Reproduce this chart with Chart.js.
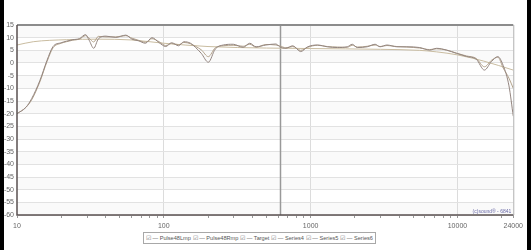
<!DOCTYPE html>
<html>
<head>
<meta charset="utf-8">
<script src="https://cdn.jsdelivr.net/npm/chart.js@4"></script>
<style>
  body { margin: 0; background: #000; width: 531px; height: 250px; overflow: hidden; }
  #wrap { position: absolute; left: 4px; top: 0; width: 523px; height: 250px; background: #fff; }
  #legend {
    position: absolute; left: 143px; top: 232px; width: 227px; height: 10px; padding: 0 2px;
    border: 1px solid #a8a8a8; display: flex; align-items: center; justify-content: space-between;
    font: 5.6px "Liberation Sans", Arial, sans-serif; color: #555; background: #fff;
  }
  #legend span { white-space: nowrap; }
  #legend b { font-weight: normal; color: #777; }
</style>
</head>
<body>
<div id="wrap"><canvas id="grafico" width="523" height="250"></canvas></div>
<div id="legend"></div>
<script>
// frequencias (Hz) das medicoes
const freqs = [10, 11.5, 12.6, 14.3, 16, 17.6, 20, 21.7, 24, 26.6, 29.3, 31, 33.3, 35.8, 40.4, 47.1,
  55.1, 60.7, 67, 75, 83, 93, 103, 113, 126, 137, 152, 164, 180, 201, 224, 254, 297, 347, 385, 425,
  496, 580, 615, 678, 756, 855, 955, 1115, 1298, 1521, 1778, 1922, 2078, 2428, 2750, 2970, 3311,
  3870, 4520, 5533, 6470, 7213, 8430, 9850, 11500, 13430, 15270, 17000, 18840, 20500, 22430, 24000];

const pulseL = [-20, -17.5, -14, -7, 1, 6.5, 8, 8.6, 9.2, 9.6, 11.2, 9, 5.8, 9.5, 10.6, 10.1,
  11, 9.4, 8.8, 7.8, 10, 8, 6.5, 8, 6.8, 8.4, 7.8, 6.2, 3.8, 0.3, 5.5, 7.1, 7.4, 6.2, 7.8, 6.4,
  7.1, 7.5, 6.4, 5.8, 6.8, 4.5, 6.4, 7.1, 6.4, 6.1, 6.4, 7.4, 6.1, 6.4, 7.4, 6.4, 7.1,
  6.4, 6.4, 6.1, 5.1, 5.8, 5.1, 3.8, 2.6, 1.5, -2.8, 0.5, 2.5, -1, -9, -21];

const pulseR = [-20, -17.5, -14.5, -7.5, 0.5, 6, 7.8, 8.4, 9, 9.4, 10.8, 9.8, 8.3, 10.5, 10.3, 10.3,
  10.8, 9.8, 9, 8.2, 9.6, 8.4, 6.9, 7.7, 7.2, 8.1, 7.6, 6.6, 5.2, 2.5, 6, 6.8, 7, 6.6, 7.4, 6.2,
  7.3, 7.1, 6.8, 6, 6.5, 5, 6.2, 7, 6.5, 6.3, 6.2, 7, 6.3, 6.6, 7.1, 6.5, 6.9,
  6.5, 6.3, 5.9, 5.3, 5.6, 5.1, 3.9, 2.8, 1.8, -1.5, 1, 2.3, -2, -6, -10];

const targetFreqs = [10, 12.9, 21.7, 35.8, 60, 100, 200, 500, 1000, 3000, 5500, 7200, 10000, 15000, 24000];
const targetDb = [7.1, 8.4, 9.2, 9.4, 9.1, 7.8, 6.5, 5.9, 5.7, 5.4, 5.0, 4.4, 3.2, 0.8, -2.8];

const seriesNames = ["Pulse48Lmp", "Pulse48Rmp", "Target", "Series4", "Series5", "Series6"];
const xLabels = [10, 100, 1000, 10000, 24000];
const cursorFreq = 620;

function pontos(xs, ys) {
  return xs.map((x, i) => ({ x, y: ys[i] }));
}

const minorTicks = [];
[10, 100, 1000].forEach(d => { for (let k = 1; k < 10; k++) minorTicks.push(d * k); });
minorTicks.push(10000, 20000, 24000);

const fundo = {
  id: "fundo",
  beforeDraw(chart) {
    const { ctx, chartArea: a, scales: { y } } = chart;
    ctx.save();
    ctx.fillStyle = "#fafafa";
    for (let v = 15; v > -60; v -= 10) {
      const t = y.getPixelForValue(v), b = y.getPixelForValue(v - 5);
      ctx.fillRect(a.left, t, a.right - a.left, b - t);
    }
    ctx.restore();
  },
  beforeDatasetsDraw(chart) {
    const { ctx, chartArea: a, scales: { x } } = chart;
    const px = Math.round(x.getPixelForValue(cursorFreq)) + 0.5;
    ctx.save();
    ctx.strokeStyle = "#999";
    ctx.lineWidth = 1.5;
    ctx.beginPath();
    ctx.moveTo(px, a.top);
    ctx.lineTo(px, a.bottom);
    ctx.stroke();
    ctx.restore();
  },
  afterDraw(chart) {
    const { ctx, chartArea: a } = chart;
    ctx.save();
    ctx.lineWidth = 2;
    ctx.strokeStyle = "#8c8c8c";
    ctx.beginPath();
    ctx.moveTo(a.left, a.top);
    ctx.lineTo(a.right, a.top);
    ctx.stroke();
    ctx.lineWidth = 1;
    ctx.strokeStyle = "#b0b0b0";
    ctx.beginPath();
    ctx.moveTo(a.right + 0.5, a.top);
    ctx.lineTo(a.right + 0.5, a.bottom);
    ctx.stroke();
    ctx.lineWidth = 1.5;
    ctx.strokeStyle = "#5a5050";
    ctx.beginPath();
    ctx.moveTo(a.left, a.top);
    ctx.lineTo(a.left, a.bottom);
    ctx.lineTo(a.right, a.bottom);
    ctx.stroke();
    ctx.font = "5px 'Liberation Sans', Arial";
    ctx.fillStyle = "#6c6ca8";
    ctx.textAlign = "right";
    ctx.fillText("(c)sound\u00ae - 6841", a.right - 2, a.bottom - 2);
    ctx.restore();
  }
};

const cores = ["#948680", "#b3a38c", "#c9bca0"];

new Chart(document.getElementById("grafico"), {
  type: "line",
  plugins: [fundo],
  data: {
    datasets: [
      { label: seriesNames[0], data: pontos(freqs, pulseL), borderColor: cores[0] },
      { label: seriesNames[1], data: pontos(freqs, pulseR), borderColor: cores[1] },
      { label: seriesNames[2], data: pontos(targetFreqs, targetDb), borderColor: cores[2] },
      { label: seriesNames[3], data: [] },
      { label: seriesNames[4], data: [] },
      { label: seriesNames[5], data: [] },
    ].map(d => ({ ...d, borderWidth: 1, pointRadius: 0, cubicInterpolationMode: "monotone" })),
  },
  options: {
    responsive: false,
    animation: false,
    devicePixelRatio: 1,
    layout: { padding: { top: 25, right: 10, left: 0, bottom: 0 } },
    plugins: { legend: { display: false }, tooltip: { enabled: false } },
    scales: {
      x: {
        type: "logarithmic",
        min: 10,
        max: 24000,
        afterFit: s => { s.height = 35; },
        afterBuildTicks: s => { s.ticks = minorTicks.map(v => ({ value: v })); },
        border: { display: false },
        grid: {
          color: c => [100, 1000, 10000].includes(c.tick && c.tick.value) ? "#dcdcdc" : "rgba(0,0,0,0)",
          tickColor: "#999",
          tickLength: 3,
        },
        ticks: {
          autoSkip: false,
          maxRotation: 0,
          padding: 4,
          color: "#666",
          font: { size: 7, family: "'Liberation Sans', Arial" },
          callback: v => xLabels.includes(v) ? String(v) : "",
        },
      },
      y: {
        min: -60,
        max: 15,
        afterFit: s => { s.width = 13; },
        border: { display: false },
        grid: { color: "#e2e2e2", drawTicks: false },
        ticks: {
          stepSize: 5,
          padding: 3,
          color: "#666",
          font: { size: 7, family: "'Liberation Sans', Arial" },
        },
      },
    },
  },
});

document.getElementById("legend").innerHTML = seriesNames
  .map(n => `<span><b>\u2611</b> \u2014 ${n}</span>`).join("");
</script>
</body>
</html>
